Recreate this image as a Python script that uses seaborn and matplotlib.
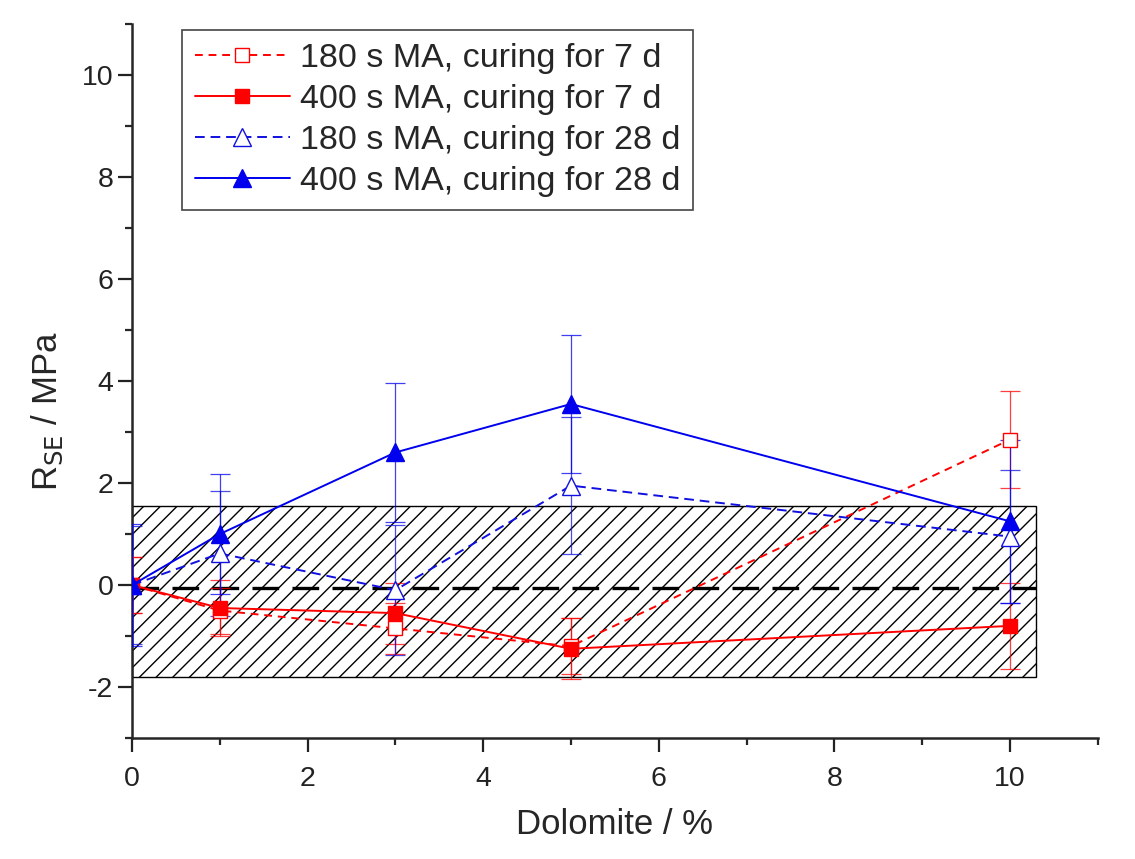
import numpy as np
import pandas as pd
import matplotlib
matplotlib.use("Agg")
import matplotlib.pyplot as plt
from matplotlib.patches import Rectangle
from matplotlib.ticker import MultipleLocator
import seaborn as sns

# dolomite content (%)
dolomite = [0, 1, 3, 5, 10]

# R_SE values (MPa) and error bars
rse_180_7 = [0, -0.5, -0.85, -1.2, 2.85]
err_180_7 = [0.55, 0.45, 0.5, 0.55, 0.95]
rse_400_7 = [0, -0.45, -0.55, -1.25, -0.8]
err_400_7 = [0.55, 0.55, 0.6, 0.6, 0.85]
rse_180_28 = [0, 0.62, -0.1, 1.95, 0.95]
err_180_28 = [1.15, 1.22, 1.27, 1.35, 1.3]
rse_400_28 = [0, 1.0, 2.6, 3.55, 1.25]
err_400_28 = [1.2, 1.17, 1.37, 1.35, 1.6]

labels = ["180 s MA, curing for 7 d", "400 s MA, curing for 7 d",
          "180 s MA, curing for 28 d", "400 s MA, curing for 28 d"]

# uncertainty band (hatched)
band_low, band_high, band_right = -1.8, 1.55, 10.3
zero_level = -0.05

sns.set_style("ticks")
plt.rcParams['font.family'] = ['Liberation Sans', 'DejaVu Sans']
plt.rcParams['hatch.linewidth'] = 1.0
plt.rcParams['axes.unicode_minus'] = False

fig = plt.figure(figsize=(11.35, 8.59), dpi=100)
ax = fig.add_axes([0.1163, 0.1408, 0.8508, 0.8312])

ax.add_patch(Rectangle((0, band_low), band_right, band_high - band_low,
                       facecolor="none", edgecolor="black", hatch="//",
                       linewidth=1.0, zorder=1))
ax.plot([0, band_right], [zero_level, zero_level], color="black",
        linestyle=(0, (8, 4)), linewidth=2.4, zorder=2)

series = [
    (rse_180_7, err_180_7, "red", "s", "white", (0, (4, 3)), 10.5),
    (rse_400_7, err_400_7, "red", "s", "red", "-", 10.5),
    (rse_180_28, err_180_28, "#1010e0", "^", "white", (0, (5, 3)), 13.5),
    (rse_400_28, err_400_28, "#0000ee", "^", "#0000ee", "-", 13.5),
]

for (y, e, col, mk, face, ls, ms), lab in zip(series, labels):
    ax.errorbar(dolomite, y, yerr=e, fmt="none", ecolor=col, elinewidth=0.9,
                capsize=7, capthick=0.9, alpha=0.75, zorder=3)
    sns.lineplot(x=dolomite, y=y, ax=ax, color=col, marker=mk,
                 markersize=ms, markerfacecolor=face, markeredgecolor=col,
                 markeredgewidth=1.0, linestyle=ls, linewidth=1.4,
                 label=lab, zorder=4)

ax.set_xlim(0, 11)
ax.set_ylim(-3, 11)
ax.xaxis.set_major_locator(MultipleLocator(2))
ax.xaxis.set_minor_locator(MultipleLocator(1))
ax.yaxis.set_major_locator(MultipleLocator(2))
ax.yaxis.set_minor_locator(MultipleLocator(1))
ax.tick_params(which="major", direction="out", length=10, width=1.6,
               labelsize=20.5, colors="#222222")
ax.tick_params(axis="x", which="major", pad=10)
ax.tick_params(which="minor", direction="out", length=5, width=1.6)
for s in ["left", "bottom"]:
    ax.spines[s].set_linewidth(1.8)
sns.despine(ax=ax)

ax.set_xlabel("Dolomite / %", fontsize=25, labelpad=12)
ax.set_ylabel("R$_{\\mathrm{SE}}$ / MPa", fontsize=25)
ax.yaxis.set_label_coords(-0.069, 0.458)

leg = ax.legend(loc="upper left", bbox_to_anchor=(0.052, 0.9916),
                borderaxespad=0, fontsize=24.5, handlelength=2.8,
                handletextpad=0.3, labelspacing=0.3, borderpad=0.37,
                fancybox=False, framealpha=1)
leg.get_frame().set_edgecolor("#444444")
leg.get_frame().set_linewidth(1.2)

fig.savefig("out.png", dpi=100)
